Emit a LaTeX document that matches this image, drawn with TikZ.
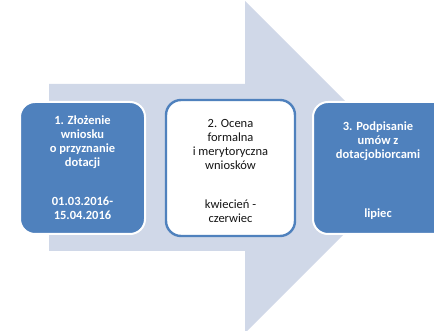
\documentclass[tikz,border=0pt]{standalone}
\usepackage{fontspec}
\setmainfont{Carlito}
\definecolor{arrowfill}{RGB}{208,216,232}
\definecolor{boxblue}{RGB}{79,129,189}
\definecolor{textdark}{RGB}{20,20,20}
\begin{document}
\begin{tikzpicture}[x=1pt,y=-1pt,
  stepbox/.style={rounded corners=15pt,line width=2pt},
  bluebox/.style={stepbox,fill=boxblue,draw=white},
  whitebox/.style={stepbox,fill=white,draw=boxblue,line width=2.4pt},
  steptext/.style={align=center,inner sep=0pt,font=\fontsize{12.5}{14}\selectfont},
  wtext/.style={steptext,text=white,font=\fontsize{12.5}{14}\selectfont\bfseries},
  btext/.style={steptext,text=textdark}]
\useasboundingbox (0,0) rectangle (434,331);
\clip (0,0) rectangle (434,331);
% big arrow
\fill[arrowfill] (49,84) -- (245,84) -- (245,1) -- (411,167) -- (245,333) -- (245,251) -- (49,251) -- cycle;
% boxes
\draw[bluebox] (20,102) rectangle (145,234);
\node[inner sep=0pt] (b1) at (82.5,168) {};
\draw[whitebox] (166,100) rectangle (295,236);
\node[inner sep=0pt] (b2) at (230.5,168) {};
\draw[bluebox] (313,102) rectangle (460,234);
\node[inner sep=0pt] (b3) at (378,168) {};
% texts
\node[wtext,anchor=north] (t1) at (82.5,116) {1. Złożenie\\wniosku\\o przyznanie\\dotacji};
\node[wtext,anchor=north] (d1) at (82.5,197) {01.03.2016-\\15.04.2016};
\node[btext,anchor=north] (t2) at (230.5,119) {2. Ocena\\formalna\\i merytoryczna\\wniosków};
\node[btext,anchor=north] (d2) at (230.5,200) {kwiecień -\\czerwiec};
\node[wtext,anchor=north] (t3) at (378,122) {3. Podpisanie\\umów z\\dotacjobiorcami};
\node[wtext,anchor=north] (d3) at (378,209) {lipiec};
\end{tikzpicture}
\end{document}
